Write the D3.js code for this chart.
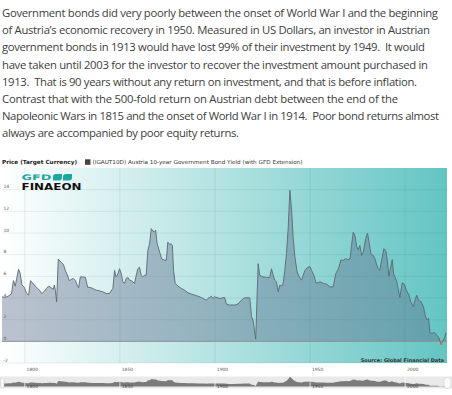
<!DOCTYPE html>
<html>
<head>
<meta charset="utf-8">
<script src="https://cdn.jsdelivr.net/npm/d3@7"></script>
<style>
  body { margin: 0; background: #fff; }
  svg { display: block; }
  .intro { white-space: pre; }
</style>
</head>
<body>
<svg id="chart" width="452" height="395"></svg>
<script>
// intro paragraph, one entry per rendered line
const introLines = [
  "Government bonds did very poorly between the onset of World War I and the beginning",
  "of Austria\u2019s economic recovery in 1950. Measured in US Dollars, an investor in Austrian",
  "government bonds in 1913 would have lost 99% of their investment by 1949.  It would",
  "have taken until 2003 for the investor to recover the investment amount purchased in",
  "1913.  That is 90 years without any return on investment, and that is before inflation.",
  "Contrast that with the 500-fold return on Austrian debt between the end of the",
  "Napoleonic Wars in 1815 and the onset of World War I in 1914.  Poor bond returns almost",
  "always are accompanied by poor equity returns."
];
const introWidths = [436, 428, 423, 426, 415, 396, 437, 237];

const seriesName = "(IGAUT10D) Austria 10-year Government Bond Yield (with GFD Extension)";

// Austria 10-year government bond yield, %
const years = [
  1788, 1790, 1791.5, 1793, 1794, 1795, 1795.7, 1796.7, 1797.5, 1798.5, 1799.7,
  1801, 1802, 1803, 1804, 1805.5, 1806.7, 1808, 1809, 1810.3, 1811.5, 1812.5,
  1813.8, 1815, 1815.5, 1816, 1816.7, 1817.6, 1819, 1820.3, 1821.3, 1822.2,
  1823.4, 1824.3, 1825.5, 1826.6, 1827.5, 1828.3, 1829.2, 1830.5, 1831.9, 1833,
  1834.3, 1835.7, 1837.5, 1839.3, 1841, 1842.8, 1844.5, 1846.3, 1847.2, 1848,
  1849, 1849.8, 1850.7, 1851.5, 1852.4, 1853.3, 1854.2, 1855, 1856, 1857.7,
  1858.6, 1859.4, 1860.3, 1861.2, 1862, 1863, 1863.8, 1864.7, 1865.6, 1866.5,
  1867.3, 1868.2, 1868.8, 1869.6, 1870.9, 1872, 1873.5, 1874.4, 1875.2, 1876.1,
  1877, 1877.6, 1878.2, 1879.1, 1880.5, 1882.3, 1884, 1885.8, 1887.6, 1889.3,
  1891, 1892.8, 1894.6, 1895.5, 1896.3, 1897.2, 1898.1, 1899, 1899.8, 1902.5,
  1905.1, 1906, 1907.7, 1910.4, 1912.1, 1913.9, 1915.6, 1918.3, 1919.2, 1920,
  1921.4, 1922.7, 1923.5, 1925.3, 1927.1, 1928.8, 1929.7, 1930.6, 1931.4, 1932.3,
  1933.2, 1934.1, 1935, 1935.8, 1936.7, 1937.6, 1938.5, 1939.4, 1940.3, 1941.1,
  1942, 1943.2, 1944.3, 1945.5, 1946.4, 1947.3, 1948.5, 1949.9, 1950.8, 1952,
  1953.1, 1954, 1955.2, 1957, 1958.7, 1960.5, 1962.2, 1963.5, 1964.9, 1966.2,
  1967.5, 1968.7, 1969.8, 1971, 1971.8, 1972.7, 1973.6, 1974.5, 1975.3, 1976.2,
  1977.1, 1978, 1979.2, 1980.2, 1981.1, 1982, 1983.2, 1984.1, 1984.9, 1985.8,
  1986.7, 1987.6, 1988.8, 1989.9, 1990.7, 1991.4, 1992.5, 1993.2, 1993.9, 1994.6,
  1995.5, 1996.3, 1997.2, 1998.5, 1999.5, 2000.8, 2002, 2003, 2004.3, 2005.2,
  2006.1, 2007, 2008.4, 2009.6, 2010.5, 2011.4, 2012.3, 2013.1, 2014, 2015.4,
  2016.6, 2017.8, 2018.9, 2019.6, 2020.6, 2021.5
];
const yields = [
  4.1, 4.05, 4.2, 4.4, 5.6, 5.1, 5.8, 6.65, 6.3, 5.2, 5.0,
  4.4, 4.27, 5.6, 5.4, 5.1, 4.9, 4.65, 4.4, 4.65, 4.9, 5.1,
  4.95, 4.8, 5.2, 4.8, 3.65, 7.6, 7.3, 7.1, 6.55, 6.2,
  5.6, 5.7, 5.8, 5.6, 5.2, 4.95, 5.95, 5.95, 5.9, 5.0,
  4.97, 4.88, 4.72, 4.66, 4.57, 4.42, 4.42, 4.88, 6.55, 5.95,
  6.25, 6.7, 6.25, 5.5, 5.35, 5.8, 5.9, 5.65, 5.6, 5.35,
  6.1, 6.7, 6.85, 6.1, 5.95, 6.1, 6.1, 8.4, 9.0, 10.4,
  10.2, 10.1, 10.25, 9.0, 8.25, 7.6, 7.5, 7.5, 9.15, 8.95,
  9.0, 8.85, 6.55, 5.35, 5.1, 4.88, 4.72, 4.48, 4.36, 4.27,
  4.17, 4.05, 3.87, 3.8, 3.96, 4.05, 4.17, 3.96, 4.1, 3.96,
  4.05, 3.44, 3.35, 3.35, 3.44, 3.8, 4.02, 4.02, 2.28, 1.97,
  0.2, 7.17, 6.1, 5.95, 5.9, 5.9, 6.7, 6.1, 5.65, 5.5,
  4.57, 5.2, 5.1, 5.28, 6.55, 8.1, 10.5, 13.95, 12.05, 9.6,
  7.8, 6.4, 5.95, 5.65, 6.1, 6.55, 6.8, 6.9, 6.55, 6.1,
  5.4, 5.4, 5.5, 5.35, 5.28, 5.03, 5.03, 6.25, 6.7, 7.5,
  7.48, 7.63, 7.54, 7.63, 8.85, 10.07, 9.77, 8.76, 8.46, 8.85,
  7.94, 8.24, 9.47, 9.98, 9.06, 8.09, 7.94, 7.63, 7.17, 6.72,
  6.56, 7.48, 8.55, 8.33, 7.32, 6.0, 6.93, 7.54, 6.25, 5.95,
  5.58, 4.88, 4.05, 5.4, 5.28, 4.66, 4.27, 3.65, 3.19, 3.8,
  4.27, 3.8, 3.65, 3.19, 2.43, 1.97, 2.13, 0.75, 0.75, 0.8,
  0.6, 0.29, -0.32, -0.02, 0.29, 0.8
];

const xTicks = [1800, 1850, 1900, 1950, 2000];
const yTicks = [-2, 0, 2, 4, 6, 8, 10, 12, 14];

const data = years.map((yr, i) => ({ year: yr, v: yields[i] }));

const svg = d3.select("#chart");
const font = "'DejaVu Sans', Verdana, sans-serif";

// ---- intro text
svg.append("g").selectAll("text")
  .data(introLines)
  .enter().append("text")
  .attr("class", "intro")
  .attr("x", 2)
  .attr("y", (d, i) => 17 + i * 17.2)
  .attr("textLength", (d, i) => introWidths[i])
  .attr("lengthAdjust", "spacing")
  .style("font-family", "'Open Sans', sans-serif")
  .style("font-size", "11.3px")
  .style("fill", "#404040")
  .text(d => d);

// ---- scales
const x = d3.scaleLinear().domain([1788, 2022]).range([2, 447]);
const y = d3.scaleLinear().domain([-2, 16]).range([363, 168]);

const defs = svg.append("defs");
const bg = defs.append("linearGradient").attr("id", "bg")
  .attr("x1", 0).attr("x2", 1).attr("y1", 0).attr("y2", 0);
bg.append("stop").attr("offset", 0).attr("stop-color", "#ffffff");
bg.append("stop").attr("offset", 1).attr("stop-color", "#63c5c3");

defs.append("clipPath").attr("id", "above")
  .append("rect").attr("x", 0).attr("y", 0).attr("width", 452).attr("height", y(0));
defs.append("clipPath").attr("id", "below")
  .append("rect").attr("x", 0).attr("y", y(0)).attr("width", 452).attr("height", 100);

// ---- header
svg.append("text")
  .attr("x", 2).attr("y", 163.5)
  .attr("textLength", 75).attr("lengthAdjust", "spacingAndGlyphs")
  .style("font-family", font).style("font-size", "5.6px").style("font-weight", "bold")
  .style("fill", "#222")
  .text("Price (Target Currency)");
svg.append("rect").attr("x", 85).attr("y", 159.3).attr("width", 5.5).attr("height", 5.5)
  .attr("fill", "#444");
svg.append("text")
  .attr("x", 92.5).attr("y", 163.5)
  .attr("textLength", 210).attr("lengthAdjust", "spacingAndGlyphs")
  .style("font-family", font).style("font-size", "5.5px")
  .style("fill", "#333")
  .text(seriesName);

// ---- plot background + grid
svg.append("rect")
  .attr("x", x.range()[0]).attr("y", y.range()[1])
  .attr("width", x.range()[1] - x.range()[0])
  .attr("height", y.range()[0] - y.range()[1])
  .attr("fill", "url(#bg)");

svg.append("g").selectAll("line")
  .data(yTicks)
  .enter().append("line")
  .attr("x1", x.range()[0]).attr("x2", x.range()[1])
  .attr("y1", d => y(d)).attr("y2", d => y(d))
  .attr("stroke", "rgba(0,70,70,0.08)");
svg.append("g").selectAll("line")
  .data(xTicks)
  .enter().append("line")
  .attr("x1", d => x(d)).attr("x2", d => x(d))
  .attr("y1", y.range()[1]).attr("y2", y.range()[0])
  .attr("stroke", "rgba(0,70,70,0.09)");

// ---- logo
svg.append("text")
  .attr("x", 21.5).attr("y", 180.3)
  .attr("textLength", 30).attr("lengthAdjust", "spacingAndGlyphs")
  .style("font-family", font).style("font-size", "7.6px").style("font-weight", "bold")
  .style("fill", "#1ba89f")
  .text("GFD");
[53, 63].forEach(lx => {
  svg.append("path")
    .attr("d", `M${lx} ${177} Q${lx} ${174} ${lx + 3} ${174} L${lx + 9} ${174} L${lx + 9} ${177.5} Q${lx + 9} ${180.5} ${lx + 6} ${180.5} L${lx} ${180.5} Z`)
    .attr("fill", "#1ba89f");
});
svg.append("text")
  .attr("x", 21.5).attr("y", 190)
  .attr("textLength", 60).attr("lengthAdjust", "spacingAndGlyphs")
  .style("font-family", font).style("font-size", "8.4px").style("font-weight", "bold")
  .style("fill", "#111")
  .text("FINAEON");

// ---- series
const area = d3.area()
  .x(d => x(d.year))
  .y0(y(0))
  .y1(d => y(d.v));
const line = d3.line()
  .x(d => x(d.year))
  .y(d => y(d.v));

svg.append("path").datum(data)
  .attr("clip-path", "url(#above)")
  .attr("d", area)
  .attr("fill", "rgba(96,110,140,0.42)");
svg.append("path").datum(data)
  .attr("clip-path", "url(#below)")
  .attr("d", area)
  .attr("fill", "rgba(220,80,70,0.6)");

svg.append("line")
  .attr("x1", x.range()[0]).attr("x2", x.range()[1])
  .attr("y1", y(0)).attr("y2", y(0))
  .attr("stroke", "#8a9599").attr("stroke-width", 1);

svg.append("path").datum(data)
  .attr("clip-path", "url(#above)")
  .attr("d", line)
  .attr("fill", "none").attr("stroke", "#5e6870").attr("stroke-width", 0.9);
svg.append("path").datum(data)
  .attr("clip-path", "url(#below)")
  .attr("d", line)
  .attr("fill", "none").attr("stroke", "#d9534a").attr("stroke-width", 0.9);

// ---- axis labels
svg.append("g").selectAll("text")
  .data(yTicks)
  .enter().append("text")
  .attr("x", 3.5).attr("y", d => y(d) - 1.3)
  .style("font-family", font).style("font-size", "4.5px").style("fill", "#555")
  .text(d => d);
svg.append("g").selectAll("text")
  .data(xTicks)
  .enter().append("text")
  .attr("x", d => x(d) + 1.8).attr("y", 371)
  .style("font-family", font).style("font-size", "4.5px").style("fill", "#555")
  .text(d => d);

svg.append("text")
  .attr("x", 444).attr("y", 361.5).attr("text-anchor", "end")
  .style("font-family", font).style("font-size", "5px").style("font-weight", "bold")
  .style("fill", "#333")
  .text("Source: Global Financial Data");

// ---- navigator
const ny = d3.scaleLinear().domain([-0.5, 14.5]).range([386.5, 376.5]);
svg.append("rect").attr("x", 0).attr("y", 376.5).attr("width", 452).attr("height", 12)
  .attr("fill", "#e9e9e9");
svg.append("path").datum(data)
  .attr("d", d3.area().x(d => x(d.year)).y0(386.5).y1(d => ny(d.v)))
  .attr("fill", "#7a7a7a");
svg.append("g").selectAll("line")
  .data(xTicks)
  .enter().append("line")
  .attr("x1", d => x(d)).attr("x2", d => x(d))
  .attr("y1", 376.5).attr("y2", 388.5)
  .attr("stroke", "#f4f4f4").attr("stroke-width", 0.8);
svg.append("g").selectAll("text")
  .data(xTicks)
  .enter().append("text")
  .attr("x", d => x(d) + 1.8).attr("y", 388)
  .style("font-family", font).style("font-size", "4.5px").style("fill", "#444")
  .text(d => d);
[[0.5, 378, 3.5, 10], [444, 377.5, 7, 11]].forEach(h => {
  svg.append("rect")
    .attr("x", h[0]).attr("y", h[1]).attr("width", h[2]).attr("height", h[3])
    .attr("rx", 3).attr("fill", "#fafafa").attr("stroke", "#cfcfcf").attr("stroke-width", 0.6);
});
</script>
</body>
</html>
